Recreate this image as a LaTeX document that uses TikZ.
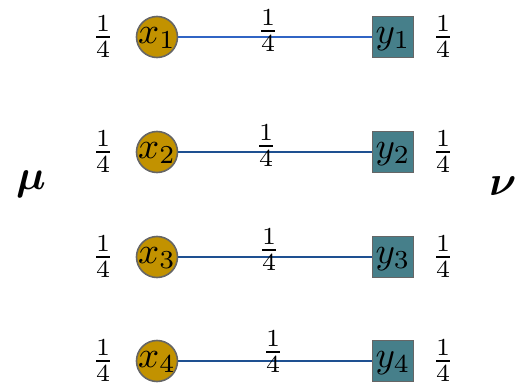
\documentclass[tikz,border=0pt]{standalone}
\usepackage{graphicx}
\usepackage{bm}
\definecolor{gold}{RGB}{194,146,0}
\definecolor{teal2}{RGB}{70,127,138}
\definecolor{edgeA}{RGB}{48,100,196}
\definecolor{edgeB}{RGB}{30,80,145}
\newcommand{\lbl}[1]{\makebox[0pt]{\raisebox{-6pt}[0pt][0pt]{\scalebox{3.7}{$#1$}}}}
\newcommand{\qt}{\scalebox{3.5}{$\frac{1}{4}$}}
\begin{document}
\begin{tikzpicture}[x=1pt,y=-1pt,
  src/.style={circle,draw=black!60,line width=1.6pt,fill=gold,minimum size=41pt,inner sep=0pt},
  tgt/.style={rectangle,draw=black!60,line width=1.6pt,fill=teal2,minimum size=41pt,inner sep=0pt},
  frac/.style={inner sep=0pt},
  edge/.style={line width=1.2pt,draw=edgeB},
  big/.style={inner sep=0pt}]
\useasboundingbox (0,0) rectangle (517,385);
\foreach \i/\y/\lx/\ly/\ec in {1/37/268/31/edgeA,2/152/266/146/edgeB,3/257/269/250/edgeB,4/361/273/352/edgeB}{
  \node[src] (x\i) at (157,\y) {\lbl{x_{\i}}};
  \node[tgt] (y\i) at (393,\y) {\lbl{y_{\i}}};
  \node[frac] (a\i) at (103,\y) {\qt};
  \node[frac] (b\i) at (443,\y) {\qt};
  \draw[edge,draw=\ec] (x\i) -- (y\i);
  \node[frac] (e\i) at (\lx,\ly) {\qt};
}
\node[big] (mu) at (31,184) {\scalebox{4.2}{$\bm{\mu}$}};
\node[big] (nu) at (503,186) {\scalebox{4.2}{$\bm{\nu}$}};
\end{tikzpicture}
\end{document}
